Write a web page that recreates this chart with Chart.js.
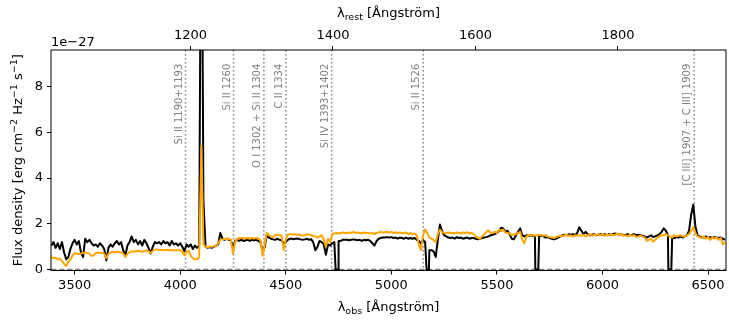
<!DOCTYPE html>
<html><head><meta charset="utf-8">
<script src="https://cdn.jsdelivr.net/npm/chart.js@4"></script>
<style>html,body{margin:0;padding:0;background:#fff}#wrap{width:729px;height:320px}</style>
</head><body><div id="wrap"><canvas id="c" width="729" height="320"></canvas></div>
<script>
// ---- data (observed wavelength grid: 3390..6580 Å, 10 Å step) ----
const wlStart = 3390, wlStep = 10;
const fluxBlack = [
1.05,1.2,0.95,1.15,0.9,1.2,0.75,0.45,0.55,0.9,
1.15,1.3,1.1,1.25,0.75,0.55,1.35,1.2,1.3,1.15,
1.05,1.1,1.0,1.15,1.05,0.9,0.4,0.95,1.1,1.0,
1.15,1.25,1.1,1.2,0.85,0.6,1.05,1.2,1.45,1.2,
1.3,1.1,1.25,1.05,1.3,1.15,0.95,0.7,1.0,1.2,
1.15,1.2,1.1,1.25,1.15,1.2,1.05,1.25,1.1,1.15,
1.05,1.15,1.0,0.8,1.1,1.0,1.1,0.9,1.05,0.95,
1.05,20,3,1.0,0.95,0.98,0.95,1.0,1.05,1.1,
1.6,1.35,1.3,1.35,1.3,1.28,0.95,1.25,1.3,1.25,
1.3,1.25,1.28,1.3,1.25,1.3,1.28,1.3,1.25,1.2,
0.8,1.0,1.5,1.4,1.35,1.32,1.3,1.35,1.3,1.28,
1.15,1.2,1.3,1.35,1.35,1.33,1.36,1.35,1.32,1.3,
1.32,1.35,1.3,1.33,1.2,0.85,1.0,1.25,1.2,1.1,
0.65,1.1,1.05,1.15,1.2,0,1.25,1.25,1.3,1.3,
1.3,1.28,1.3,1.32,1.3,1.28,1.3,1.25,1.3,1.28,
1.3,1.25,1.15,1.05,1.25,1.35,1.38,1.4,1.4,1.42,
1.4,1.42,1.38,1.4,1.35,1.4,1.38,1.35,1.4,1.35,
1.38,1.35,1.38,1.3,1.25,1.15,1.3,1.2,0,0.85,
0.85,0.8,0.55,1.3,1.97,1.7,1.5,1.45,1.4,1.38,
1.4,1.35,1.42,1.38,1.4,1.35,1.38,1.4,1.35,1.38,
1.38,1.35,1.33,1.35,1.38,1.4,1.42,1.45,1.5,1.52,
1.55,1.6,1.7,1.83,1.8,1.65,1.7,1.55,1.35,1.32,
1.5,1.65,1.8,1.5,1.45,1.5,1.48,1.5,1.48,1.45,
0,1.5,1.48,1.45,1.4,1.42,1.38,1.35,1.32,1.35,
1.4,1.45,1.5,1.52,1.5,1.55,1.52,1.55,1.5,1.6,
1.85,1.7,1.55,1.65,1.55,1.5,1.52,1.55,1.5,1.52,
1.55,1.52,1.55,1.5,1.55,1.52,1.55,1.58,1.55,1.52,
1.55,1.5,1.52,1.55,1.5,1.52,1.55,1.5,1.52,1.5,
1.48,1.45,1.4,1.45,1.5,1.42,1.45,1.5,1.55,1.65,
1.8,1.7,1.5,0,1.4,1.38,1.42,1.4,1.45,1.4,
1.45,1.5,1.7,2.4,2.84,1.9,1.5,1.45,1.42,1.4,
1.45,1.4,1.42,1.38,1.42,1.4,1.38,1.4,1.35,1.3
];
const fluxOrange = [
0.55,0.5,0.52,0.45,0.48,0.38,0.25,0.15,0.35,0.45,
0.6,0.72,0.7,0.68,0.7,0.72,0.75,0.72,0.7,0.6,
0.62,0.72,0.75,0.74,0.73,0.7,0.5,0.68,0.75,0.78,
0.76,0.78,0.77,0.75,0.7,0.55,0.68,0.76,0.8,0.78,
0.8,0.82,0.8,0.78,0.8,0.85,0.8,0.72,0.8,0.88,
0.88,0.86,0.87,0.85,0.86,0.87,0.85,0.86,0.84,0.85,
0.85,0.84,0.8,0.62,0.78,0.82,0.6,0.5,0.45,0.45,
0.55,5.4,1.1,1.0,0.98,1.0,1.0,1.02,1.05,1.15,
1.3,1.32,1.35,1.33,1.35,1.3,0.7,1.2,1.35,1.38,
1.38,1.37,1.36,1.38,1.37,1.38,1.36,1.38,1.35,1.3,
0.6,1.1,1.62,1.5,1.45,1.42,1.5,1.52,1.5,1.48,
0.85,1.3,1.52,1.55,1.53,1.55,1.52,1.54,1.5,1.48,
1.5,1.55,1.52,1.5,1.48,1.45,1.4,1.45,1.5,1.3,
1.0,1.35,1.2,1.55,1.58,1.6,1.58,1.6,1.62,1.6,
1.6,1.62,1.6,1.65,1.6,1.62,1.6,1.58,1.62,1.6,
1.6,1.58,1.6,1.55,1.6,1.62,1.65,1.62,1.63,1.65,
1.62,1.65,1.6,1.63,1.6,1.62,1.58,1.6,1.62,1.55,
1.6,1.55,1.58,1.5,1.1,0.85,1.5,1.75,1.6,1.4,
1.35,1.3,1.2,1.55,1.75,1.65,1.6,1.58,1.62,1.6,
1.6,1.58,1.62,1.6,1.58,1.62,1.6,1.63,1.58,1.6,
1.55,1.45,1.38,1.35,1.45,1.55,1.65,1.72,1.6,1.62,
1.65,1.6,1.75,1.68,1.75,1.62,1.6,1.58,1.5,1.55,
1.55,1.6,1.65,1.3,1.15,1.45,1.5,1.52,1.5,1.48,
1.5,1.52,1.5,1.48,1.5,1.45,1.42,1.4,1.38,1.42,
1.45,1.48,1.45,1.5,1.52,1.48,1.5,1.45,1.5,1.48,
1.5,1.48,1.52,1.45,1.5,1.55,1.48,1.52,1.5,1.55,
1.5,1.55,1.48,1.52,1.5,1.55,1.5,1.52,1.58,1.5,
1.55,1.48,1.5,1.45,1.52,1.48,1.5,1.42,1.45,1.48,
1.45,1.4,1.25,1.3,1.35,1.22,1.3,1.38,1.45,1.5,
1.5,1.55,1.5,1.45,1.4,1.5,1.45,1.48,1.5,1.45,
1.45,1.5,1.55,1.7,1.85,1.6,1.45,1.42,1.38,1.45,
1.35,1.42,1.3,1.4,1.35,1.42,1.3,1.38,1.1,1.2
];
// masked (zero-flux) pixels in the black spectrum
const blackMaskWl   = [4736, 4748, 5167, 5178, 5682, 5696, 6312, 6326];
const blackMaskFlux = [0, 0, 0, 0, 0, 0, 0, 0];
// emission / absorption line markers
const lineRest   = [1193, 1260.42, 1303, 1334, 1398, 1526.71, 1907];
const lineLabels = ["Si II 1190+1193", "Si II 1260", "O I 1302 + Si II 1304", "C II 1334",
                    "Si IV 1393+1402", "Si II 1526", "[C III] 1907 + C III] 1909"];
const onePlusZ = 3.374;
const obsTicks  = [3500, 4000, 4500, 5000, 5500, 6000, 6500];
const restTicks = [1200, 1400, 1600, 1800];
const yTicks    = [0, 2, 4, 6, 8];
const xMin = 3388, xMax = 6585, yMin = -0.04, yMax = 9.6;

// ---- build series ----
const blackPts = fluxBlack.map((f, i) => ({x: wlStart + i * wlStep, y: f}));
blackMaskWl.forEach((w, i) => blackPts.push({x: w, y: blackMaskFlux[i]}));
blackPts.sort((a, b) => a.x - b.x);
const orangePts = fluxOrange.map((f, i) => ({x: wlStart + i * wlStep, y: f}));

const FONT = '"DejaVu Sans", "Liberation Sans", sans-serif';

function drawRich(ctx, segs, x, y, align) {
  let w = 0;
  segs.forEach(s => { ctx.font = (s.s ? '9.5px ' : '13px ') + FONT; s.w = ctx.measureText(s.t).width; w += s.w; });
  let cx = align === 'center' ? x - w / 2 : x;
  ctx.textAlign = 'left';
  ctx.textBaseline = 'alphabetic';
  segs.forEach(s => {
    ctx.font = (s.s ? '9.5px ' : '13px ') + FONT;
    const dy = s.s === 1 ? -5 : (s.s === -1 ? 3 : 0);
    ctx.fillText(s.t, cx, y + dy);
    cx += s.w;
  });
}

const decor = {
  id: 'decor',
  beforeDatasetsDraw(chart) {
    const {ctx, chartArea: a, scales} = chart;
    const xs = scales.x, ys = scales.y;
    ctx.save();
    ctx.beginPath(); ctx.rect(a.left, a.top, a.right - a.left, a.bottom - a.top); ctx.clip();
    // zero line
    ctx.strokeStyle = '#808080'; ctx.lineWidth = 1.5; ctx.setLineDash([5.5, 2.5]);
    const y0 = ys.getPixelForValue(0);
    ctx.beginPath(); ctx.moveTo(a.left, y0); ctx.lineTo(a.right, y0); ctx.stroke();
    // line markers
    ctx.setLineDash([1.5, 2.5]); ctx.lineWidth = 1.5; ctx.strokeStyle = '#808080';
    lineRest.forEach(r => {
      const px = xs.getPixelForValue(r * onePlusZ);
      ctx.beginPath(); ctx.moveTo(px, a.top); ctx.lineTo(px, a.bottom); ctx.stroke();
    });
    ctx.restore();
  },
  afterDatasetsDraw(chart) {
    const {ctx, chartArea: a, scales} = chart;
    const xs = scales.x, ys = scales.y;
    ctx.save();
    // labels of line markers
    ctx.fillStyle = '#808080'; ctx.font = '10px ' + FONT;
    const yTop = ys.getPixelForValue(9);
    lineRest.forEach((r, i) => {
      const px = xs.getPixelForValue(r * onePlusZ);
      ctx.save();
      ctx.translate(px - 1.5, yTop);
      ctx.rotate(-Math.PI / 2);
      ctx.textAlign = 'right'; ctx.textBaseline = 'bottom';
      ctx.fillText(lineLabels[i], 0, 0);
      ctx.restore();
    });
    // frame
    ctx.strokeStyle = '#000'; ctx.lineWidth = 1; ctx.setLineDash([]);
    ctx.strokeRect(a.left, a.top, a.right - a.left, a.bottom - a.top);
    // titles
    ctx.fillStyle = '#000';
    const cx = (a.left + a.right) / 2;
    drawRich(ctx, [{t: 'λ'}, {t: 'obs', s: -1}, {t: ' [Ångström]'}], cx, 311, 'center');
    drawRich(ctx, [{t: 'λ'}, {t: 'rest', s: -1}, {t: ' [Ångström]'}], cx, 16.5, 'center');
    ctx.font = '13px ' + FONT; ctx.textAlign = 'left'; ctx.textBaseline = 'alphabetic';
    ctx.fillText('1e\u221227', a.left, 46);
    ctx.save();
    ctx.translate(21.5, (a.top + a.bottom) / 2);
    ctx.rotate(-Math.PI / 2);
    drawRich(ctx, [{t: 'Flux density [erg cm'}, {t: '\u22122', s: 1}, {t: ' Hz'}, {t: '\u22121', s: 1},
                   {t: ' s'}, {t: '\u22121', s: 1}, {t: ']'}], 0, 0, 'center');
    ctx.restore();
    ctx.restore();
  }
};

const tickFont = {family: FONT, size: 13};
new Chart(document.getElementById('c'), {
  type: 'line',
  data: {
    datasets: [
      {label: 'model', data: orangePts, borderColor: '#FFA500', borderWidth: 2, pointRadius: 0,
       tension: 0, borderJoinStyle: 'round', clip: 0, order: 0},
      {label: 'spectrum', data: blackPts, borderColor: '#000000', borderWidth: 2, pointRadius: 0,
       tension: 0, borderJoinStyle: 'round', clip: 0, order: 1}
    ]
  },
  options: {
    responsive: false, animation: false, devicePixelRatio: 1,
    layout: {padding: {left: 0, right: 3, top: 0, bottom: 0}},
    plugins: {legend: {display: false}, tooltip: {enabled: false}},
    scales: {
      x: {
        type: 'linear', position: 'bottom', min: xMin, max: xMax,
        afterBuildTicks: s => { s.ticks = obsTicks.map(v => ({value: v})); },
        afterFit: s => { s.height = 49.5; },
        ticks: {font: tickFont, color: '#000', padding: 3, maxRotation: 0, callback: v => String(v)},
        grid: {drawOnChartArea: false, drawTicks: true, tickLength: 4, color: '#000'},
        border: {display: false}
      },
      x2: {
        type: 'linear', position: 'top', min: xMin, max: xMax,
        afterBuildTicks: s => { s.ticks = restTicks.map(v => ({value: v * onePlusZ})); },
        afterFit: s => { s.height = 50; },
        ticks: {font: tickFont, color: '#000', padding: 3, maxRotation: 0,
                callback: v => String(Math.round(v / onePlusZ))},
        grid: {drawOnChartArea: false, drawTicks: true, tickLength: 4, color: '#000'},
        border: {display: false}
      },
      y: {
        type: 'linear', position: 'left', min: yMin, max: yMax,
        afterBuildTicks: s => { s.ticks = yTicks.map(v => ({value: v})); },
        afterFit: s => { s.width = 51; },
        ticks: {font: tickFont, color: '#000', padding: 4, callback: v => String(v)},
        grid: {drawOnChartArea: false, drawTicks: true, tickLength: 4, color: '#000'},
        border: {display: false}
      }
    }
  },
  plugins: [decor]
});
</script>
</body></html>
